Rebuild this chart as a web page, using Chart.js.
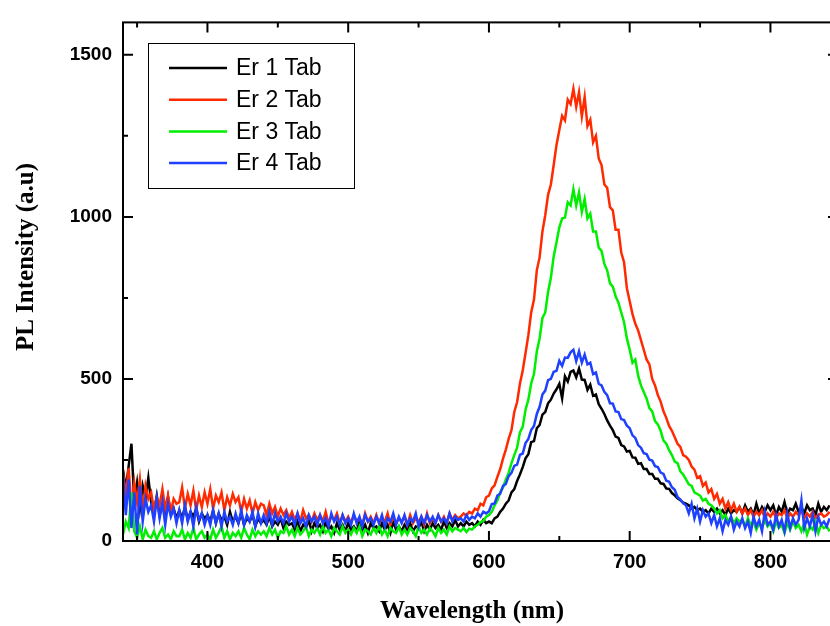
<!DOCTYPE html>
<html>
<head>
<meta charset="utf-8">
<script src="https://cdn.jsdelivr.net/npm/chart.js@4.4.0/dist/chart.umd.min.js"></script>
<style>
html,body{margin:0;padding:0;background:#fff;overflow:hidden;}
#wrap{width:850px;height:626px;}
</style>
</head>
<body>
<div id="wrap"><canvas id="c" width="850" height="626"></canvas></div>
<script>
// wavelength grid (nm)
const wavelengths = [
  340,342,344,346,348,350,352,354,356,358,
  360,362,364,366,368,370,372,374,376,378,
  380,382,384,386,388,390,392,394,396,398,
  400,402,404,406,408,410,412,414,416,418,
  420,422,424,426,428,430,432,434,436,438,
  440,442,444,446,448,450,452,454,456,458,
  460,462,464,466,468,470,472,474,476,478,
  480,482,484,486,488,490,492,494,496,498,
  500,502,504,506,508,510,512,514,516,518,
  520,522,524,526,528,530,532,534,536,538,
  540,542,544,546,548,550,552,554,556,558,
  560,562,564,566,568,570,572,574,576,578,
  580,582,584,586,588,590,592,594,596,598,
  600,602,604,606,608,610,612,614,616,618,
  620,622,624,626,628,630,632,634,636,638,
  640,642,644,646,648,650,652,654,656,658,
  660,662,664,666,668,670,672,674,676,678,
  680,682,684,686,688,690,692,694,696,698,
  700,702,704,706,708,710,712,714,716,718,
  720,722,724,726,728,730,732,734,736,738,
  740,742,744,746,748,750,752,754,756,758,
  760,762,764,766,768,770,772,774,776,778,
  780,782,784,786,788,790,792,794,796,798,
  800,802,804,806,808,810,812,814,816,818,
  820,822,824,826,828,830,832,834,836,838,
  840,842
];

const xTicks = [400, 500, 600, 700, 800];
const yTicks = [0, 500, 1000, 1500];

const er1 = [
  220,160,230,300,120,180,100,170,130,195,
  120,90,140,80,110,75,135,85,100,70,
  95,70,105,65,90,75,100,60,85,70,
  80,60,95,55,85,65,75,50,90,60,
  75,55,85,50,70,60,80,45,70,55,
  65,50,75,45,60,50,70,40,60,50,
  55,35,60,30,50,40,65,30,55,40,
  50,30,60,35,45,25,55,35,50,30,
  55,35,45,30,60,35,50,25,55,40,
  45,30,55,35,50,25,60,35,45,30,
  50,35,55,30,45,40,60,30,50,35,
  55,40,50,35,60,40,55,45,65,45,
  55,45,60,50,55,45,60,50,65,55,
  60,55,70,75,90,100,115,125,150,160,
  185,205,228,255,268,305,308,348,358,390,
  398,425,436,455,468,485,440,508,492,522,
  526,505,532,498,497,466,482,448,452,422,
  408,392,372,356,342,322,318,296,292,276,
  278,258,257,238,240,222,222,207,207,192,
  192,178,176,162,161,148,141,132,126,118,
  115,110,100,105,95,100,90,95,85,100,
  90,100,85,95,80,100,85,95,90,105,
  85,110,90,100,80,115,85,105,90,110,
  95,110,80,105,90,120,85,100,95,115,
  90,105,85,110,95,100,80,115,90,105,
  95,110
];

const er2 = [
  210,140,225,100,180,120,190,90,170,130,
  150,95,135,110,160,100,140,90,130,115,
  120,165,100,145,110,155,95,140,105,150,
  115,160,100,140,120,150,95,135,110,145,
  120,135,90,130,100,125,85,120,95,115,
  110,80,115,85,105,75,100,80,95,70,
  90,65,85,60,95,70,80,60,85,65,
  80,60,90,55,75,65,85,55,80,60,
  75,55,80,60,70,50,85,60,75,55,
  80,55,70,60,85,50,75,55,70,60,
  75,50,80,55,70,60,75,50,85,55,
  70,55,80,60,75,55,85,65,80,70,
  75,85,78,90,85,100,95,115,110,135,
  140,162,172,198,222,254,282,315,342,398,
  428,485,526,580,635,705,745,835,875,955,
  1005,1068,1100,1160,1222,1268,1312,1298,1362,1348,
  1395,1340,1385,1310,1370,1280,1300,1230,1250,1180,
  1160,1100,1090,1030,1020,960,960,890,860,780,
  740,700,670,650,620,590,560,545,500,480,
  450,430,400,380,355,340,320,300,290,265,
  260,250,230,220,195,200,170,180,150,160,
  130,145,115,130,100,120,95,115,90,105,
  85,100,80,95,75,90,80,95,70,85,
  75,90,70,85,80,95,70,85,75,90,
  80,95,70,85,75,90,70,80,85,75,
  80,90
];

const er3 = [
  20,60,40,150,30,10,45,5,35,15,
  10,30,5,25,40,10,20,5,30,15,
  15,35,5,25,10,40,5,20,30,10,
  20,5,35,10,25,45,10,30,5,25,
  15,30,10,40,20,5,35,15,30,20,
  30,15,40,20,35,10,30,25,45,20,
  35,15,40,20,30,45,15,35,25,40,
  20,45,25,35,15,40,30,20,45,25,
  35,20,40,25,45,15,35,30,20,40,
  25,45,20,35,15,40,30,25,45,20,
  35,20,40,30,15,45,25,35,20,40,
  30,15,40,25,35,20,45,30,40,35,
  30,40,28,38,35,45,50,58,62,75,
  80,90,110,125,150,165,190,210,240,265,
  288,335,352,405,436,486,515,585,625,688,
  705,768,812,878,922,968,995,998,1045,1035,
  1085,1035,1075,1015,1055,995,1010,955,955,905,
  895,855,835,795,785,755,735,705,675,625,
  590,550,560,510,480,460,440,410,400,370,
  360,340,310,300,280,265,245,240,215,205,
  190,175,170,150,145,140,125,130,115,110,
  100,85,95,70,80,60,75,55,70,60,
  65,45,70,50,60,35,55,40,65,45,
  55,30,60,40,50,25,55,35,60,40,
  50,30,55,20,45,35,60,25,50,40,
  45,30
];

const er4 = [
  200,80,190,40,150,20,170,60,130,90,
  110,60,130,70,120,50,115,75,100,55,
  95,55,110,60,90,45,105,65,85,50,
  80,50,95,55,85,45,90,60,75,50,
  85,55,95,50,80,60,90,45,85,55,
  80,55,90,50,85,60,75,55,85,60,
  75,50,85,55,70,45,80,60,75,50,
  80,55,70,45,85,60,75,50,80,55,
  70,50,85,55,75,45,80,60,70,50,
  75,55,80,45,70,60,85,50,75,55,
  80,50,70,60,85,45,75,55,80,60,
  75,55,80,60,70,55,85,60,75,65,
  70,60,80,65,75,70,85,75,90,85,
  92,114,116,140,146,170,176,200,210,232,
  236,266,270,302,315,342,355,392,414,452,
  464,496,500,522,525,556,540,566,565,582,
  590,555,585,550,575,545,550,515,520,485,
  480,460,450,425,424,400,398,376,373,356,
  348,326,318,296,288,271,268,251,248,231,
  228,211,207,186,183,166,158,136,128,116,
  110,85,115,70,100,60,95,75,85,55,
  80,45,70,30,65,50,75,35,60,45,
  70,40,60,25,75,45,65,30,90,50,
  60,35,80,45,65,30,85,40,70,50,
  65,125,40,70,45,80,30,75,50,60,
  45,70
];

const seriesNames = ['Er 1 Tab', 'Er 2 Tab', 'Er 3 Tab', 'Er 4 Tab'];
const seriesColors = ['#000000', '#ff2a00', '#00ee00', '#1e40ff'];
const seriesValues = [er1, er2, er3, er4];

Chart.defaults.font.family = '"Liberation Sans", Arial, sans-serif';
Chart.defaults.color = '#000';

// frame, inward ticks, axis titles and boxed legend
const decorations = {
  id: 'decorations',
  afterDatasetsDraw(chart){
    const {ctx, chartArea:a, scales:{x, y}} = chart;
    ctx.save();
    ctx.strokeStyle = '#000';
    ctx.lineWidth = 2;
    ctx.strokeRect(a.left, a.top, a.right - a.left, a.bottom - a.top);

    const xm = x.ticks.map(t=>t.value);
    const ym = y.ticks.map(t=>t.value);
    const xs = xm[1] - xm[0], ys = ym[1] - ym[0];
    const xMinor = [xm[0] - xs/2].concat(xm.map(v=>v + xs/2)).filter(v=>v > x.min && v < x.max);
    const yMinor = [ym[0] - ys/2].concat(ym.map(v=>v + ys/2)).filter(v=>v > y.min && v < y.max);

    ctx.beginPath();
    xm.forEach(v=>{ const p = x.getPixelForValue(v);
      ctx.moveTo(p, a.bottom); ctx.lineTo(p, a.bottom - 10);
      ctx.moveTo(p, a.top); ctx.lineTo(p, a.top + 10); });
    xMinor.forEach(v=>{ const p = x.getPixelForValue(v);
      ctx.moveTo(p, a.bottom); ctx.lineTo(p, a.bottom - 5);
      ctx.moveTo(p, a.top); ctx.lineTo(p, a.top + 5); });
    ym.forEach(v=>{ const p = y.getPixelForValue(v);
      ctx.moveTo(a.left, p); ctx.lineTo(a.left + 10, p);
      ctx.moveTo(a.right, p); ctx.lineTo(a.right - 10, p); });
    yMinor.forEach(v=>{ const p = y.getPixelForValue(v);
      ctx.moveTo(a.left, p); ctx.lineTo(a.left + 5, p);
      ctx.moveTo(a.right, p); ctx.lineTo(a.right - 5, p); });
    ctx.stroke();

    // axis titles
    ctx.fillStyle = '#000';
    ctx.font = 'bold 25px "Liberation Serif", "Times New Roman", serif';
    ctx.textAlign = 'center';
    ctx.textBaseline = 'alphabetic';
    ctx.fillText('Wavelength (nm)', 472, 618);
    ctx.save();
    ctx.translate(33, 257);
    ctx.rotate(-Math.PI/2);
    ctx.fillText('PL Intensity (a.u)', 0, 0);
    ctx.restore();

    // legend
    ctx.fillStyle = '#fff';
    ctx.fillRect(148, 43, 206, 145);
    ctx.lineWidth = 1;
    ctx.strokeStyle = '#000';
    ctx.strokeRect(148.5, 43.5, 206, 145);
    ctx.font = '23px "Liberation Sans", Arial, sans-serif';
    ctx.textAlign = 'left';
    ctx.textBaseline = 'middle';
    chart.data.datasets.forEach((ds, i)=>{
      const ly = 68 + i * 31.7;
      ctx.strokeStyle = ds.borderColor;
      ctx.lineWidth = 2.5;
      ctx.beginPath(); ctx.moveTo(169, ly); ctx.lineTo(227, ly); ctx.stroke();
      ctx.fillStyle = '#000';
      ctx.fillText(ds.label, 236, ly + 1);
    });
    ctx.restore();
  }
};

new Chart(document.getElementById('c'), {
  type: 'line',
  data: {
    datasets: seriesValues.map((vals, i)=>({
      label: seriesNames[i],
      data: vals.map((v, k)=>({x: wavelengths[k], y: v})),
      borderColor: seriesColors[i],
      backgroundColor: seriesColors[i],
      borderWidth: 2.5,
      pointRadius: 0,
      tension: 0,
      order: 4 - i
    }))
  },
  options: {
    responsive: false,
    animation: false,
    layout: { padding: { top: 18, right: 12, left: 0, bottom: 0 } },
    plugins: { legend: { display: false }, tooltip: { enabled: false } },
    scales: {
      x: {
        type: 'linear', min: 340, max: 848,
        grid: { display: false, drawTicks: false }, border: { display: false },
        ticks: { padding: 9, maxRotation: 0, font: { size: 20, weight: 'bold' },
                 callback: v => String(v) },
        afterBuildTicks(s){ s.ticks = xTicks.map(v=>({value: v})); },
        afterFit(s){ s.height = 85; }
      },
      y: {
        type: 'linear', min: 0, max: 1600,
        grid: { display: false, drawTicks: false }, border: { display: false },
        ticks: { padding: 11, font: { size: 19, weight: 'bold' },
                 callback: v => String(v) },
        afterBuildTicks(s){ s.ticks = yTicks.map(v=>({value: v})); },
        afterFit(s){ s.width = 123; }
      }
    }
  },
  plugins: [decorations]
});
</script>
</body>
</html>
